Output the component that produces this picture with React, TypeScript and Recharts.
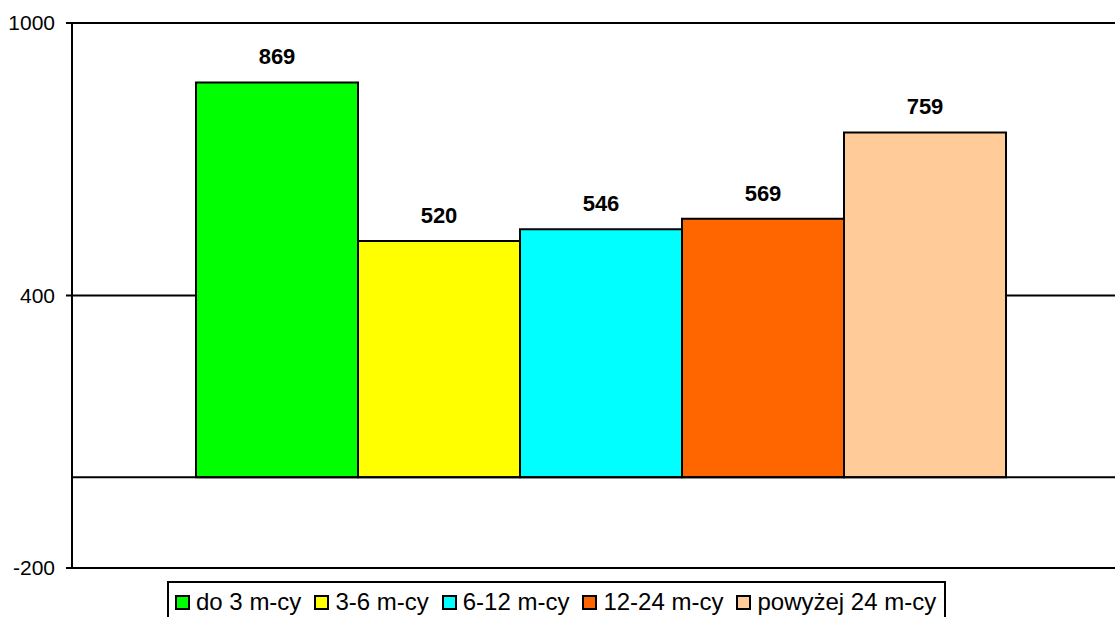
import { BarChart, Bar, XAxis, YAxis, CartesianGrid, ReferenceLine, LabelList } from 'recharts'

const SERIES = ['do 3 m-cy', '3-6 m-cy', '6-12 m-cy', '12-24 m-cy', 'powyżej 24 m-cy']
const VALUES = [869, 520, 546, 569, 759]
const Y_TICKS = [-200, 400, 1000]
const COLORS = ['#00ff00', '#ffff00', '#00ffff', '#ff6600', '#ffcc99']

const FONT = '"Liberation Sans", Arial, sans-serif'

const row: Record<string, string | number> = { name: '' }
SERIES.forEach((_, i) => {
  row[`s${i}`] = VALUES[i]
})
const data = [row]

function LegendBox() {
  return (
    <div
      style={{
        position: 'absolute',
        left: 167,
        top: 581,
        height: 44,
        border: '2px solid #000',
        background: '#fff',
        display: 'flex',
        alignItems: 'flex-start',
        padding: '5px 8px 0 6px',
        fontFamily: FONT,
        fontSize: 24,
        lineHeight: '28px',
        color: '#000',
        whiteSpace: 'nowrap',
      }}
    >
      {SERIES.map((name, i) => (
        <div key={name} style={{ display: 'flex', alignItems: 'center', marginRight: i < SERIES.length - 1 ? 13 : 0 }}>
          <span
            style={{
              display: 'inline-block',
              width: 11,
              height: 11,
              border: '2px solid #000',
              background: COLORS[i],
              marginRight: 6,
            }}
          />
          <span>{name}</span>
        </div>
      ))}
    </div>
  )
}

export default function App() {
  return (
    <div style={{ position: 'absolute', left: 0, top: 0, width: 1115, height: 617, overflow: 'hidden', background: '#fff' }}>
      <BarChart
        width={1142}
        height={640}
        data={data}
        margin={{ top: 23, right: 12, bottom: 72, left: 0 }}
        barSize={162}
        barGap={0}
      >
        <CartesianGrid horizontal vertical={false} stroke="#000" strokeWidth={2} />
        <XAxis dataKey="name" hide />
        <YAxis
          width={72}
          domain={[-200, 1000]}
          ticks={Y_TICKS}
          interval={0}
          axisLine={{ stroke: '#000', strokeWidth: 2 }}
          tickLine={{ stroke: '#000', strokeWidth: 2 }}
          tickSize={6}
          tickMargin={11}
          tick={{ fill: '#000', fontSize: 21, fontFamily: FONT }}
        />
        <ReferenceLine y={0} stroke="#000" strokeWidth={2} />
        {SERIES.map((name, i) => (
          <Bar
            key={name}
            dataKey={`s${i}`}
            name={name}
            fill={COLORS[i]}
            stroke="#000"
            strokeWidth={2}
            isAnimationActive={false}
          >
            <LabelList
              dataKey={`s${i}`}
              position="top"
              offset={18}
              fill="#000"
              fontSize={22}
              fontWeight="bold"
              fontFamily={FONT}
            />
          </Bar>
        ))}
      </BarChart>
      <LegendBox />
    </div>
  )
}
